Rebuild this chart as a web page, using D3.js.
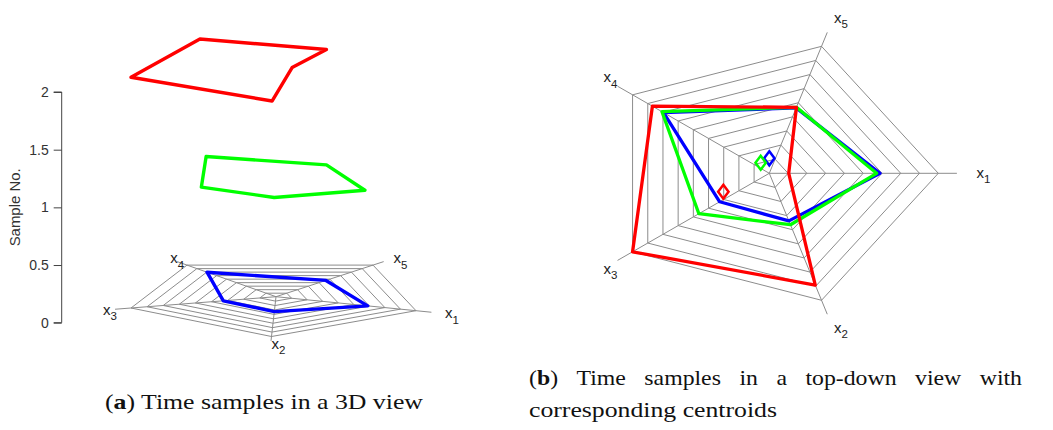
<!DOCTYPE html>
<html>
<head>
<meta charset="utf-8">
<script src="https://cdn.jsdelivr.net/npm/d3@7/dist/d3.min.js"></script>
<style>
  body { margin: 0; background: #fff; }
  svg { display: block; }
  .tick text { font-family: "Liberation Sans", Arial, sans-serif; }
</style>
</head>
<body>
<svg id="chart"></svg>
<script>
// radar axes x1..x5 and the three time samples (values as fraction of the outer ring)
const axisNames = ["1", "2", "3", "4", "5"];
const sampleNo = [0, 1, 2];
const sample0 = [0.655, 0.375, 0.363, 0.775, 0.515];
const sample1 = [0.635, 0.405, 0.515, 0.785, 0.52];
const sample2 = [0.115, 0.88, 1.0, 0.855, 0.52];
// centroids, in units of the outer radius (y up)
const centroidX = [0.0, -0.051, -0.272];
const centroidY = [0.112, 0.079, -0.138];
const zTicks = [0, 0.5, 1, 1.5, 2];
const gridLevels = 9;

const W = 1053, H = 430;
const COLORS = ["#0000ff", "#00ff00", "#ff0000"];
const GRID = "#8c8c8c";
const SANS = "'Liberation Sans', Arial, sans-serif";
const samples = [sample0, sample1, sample2];

const svg = d3.select("#chart").attr("width", W).attr("height", H);
svg.append("rect").attr("width", W).attr("height", H).attr("fill", "#fff");

const line = d3.line().curve(d3.curveLinearClosed);
const openLine = d3.line();
const levels = d3.range(1, gridLevels + 1).map((i) => i / gridLevels);

function axisLabel(g, x, y, sub) {
  const t = g.append("text")
    .attr("x", x - 4)
    .attr("y", y + 4.5)
    .style("font-family", SANS)
    .style("font-size", "15px")
    .attr("fill", "#222");
  t.append("tspan").text("x");
  t.append("tspan").attr("dy", 5.5).style("font-size", "11.5px").text(sub);
}

// ---------- panel (a): oblique 3D view ----------
const panelA = svg.append("g");
const zScale = d3.scaleLinear().domain([0, 2]).range([322.7, 92]);
const rA = d3.scaleLinear().domain([0, 1]).range([0, 1]);
const centreA = 276, baseLift = 26;
// screen direction of each radar axis at full length (projected)
const dirsA = [[140, 14], [-4.5, 39.8], [-145, 11.3], [-89, -31.6], [97, -31.6]];
const projA = (k, v, z) => [
  centreA + dirsA[k][0] * rA(v),
  zScale(z) - baseLift + dirsA[k][1] * rA(v),
];

const zAxis = d3.axisLeft(zScale)
  .tickValues(zTicks)
  .tickFormat(d3.format("~g"))
  .tickSize(8)
  .tickPadding(5);

const zAxisG = panelA.append("g")
  .attr("transform", "translate(61.7,0)")
  .call(zAxis);
zAxisG.select(".domain").attr("stroke", "#444").attr("d", `M-8,${zScale(2)}H0V${zScale(0)}H-8`);
zAxisG.selectAll(".tick line").attr("stroke", "#444");
zAxisG.selectAll(".tick text").style("font-size", "14px").attr("fill", "#333");

panelA.append("text")
  .attr("transform", `translate(20,${(zScale(0) + zScale(2)) / 2}) rotate(-90)`)
  .attr("text-anchor", "middle")
  .attr("textLength", 78)
  .attr("lengthAdjust", "spacingAndGlyphs")
  .style("font-family", SANS)
  .style("font-size", "15px")
  .attr("fill", "#333")
  .text("Sample No.");

const gridA = panelA.append("g")
  .attr("fill", "none")
  .attr("stroke", GRID)
  .attr("stroke-width", 1);

gridA.selectAll(".ring")
  .data(levels)
  .join("path")
  .attr("class", "ring")
  .attr("d", (lv) => line(axisNames.map((_, k) => projA(k, lv, 0))));

gridA.selectAll(".spoke")
  .data(axisNames)
  .join("path")
  .attr("class", "spoke")
  .attr("d", (_, k) => openLine([projA(k, 0, 0), projA(k, 1.11, 0)]));

axisNames.forEach((n, k) => {
  const p = projA(k, 1.2, 0);
  axisLabel(panelA, p[0] + 5, p[1], n);
});

panelA.selectAll(".sample")
  .data(samples)
  .join("path")
  .attr("class", "sample")
  .attr("fill", "none")
  .attr("stroke", (_, i) => COLORS[i])
  .attr("stroke-width", 3.4)
  .attr("stroke-linejoin", "round")
  .attr("d", (vals, i) => line(vals.map((v, k) => projA(k, v, sampleNo[i]))));

// ---------- panel (b): top-down radar ----------
const panelB = svg.append("g");
const cxB = 769.3, cyB = 173.3;
const rxB = d3.scaleLinear().domain([0, 1]).range([0, 169]);
const ryB = d3.scaleLinear().domain([0, 1]).range([0, 133.5]);
const anglesB = [0, -72, -144, 144, 72].map((a) => (a * Math.PI) / 180);
const projB = (k, v) => [
  cxB + rxB(v) * Math.cos(anglesB[k]),
  cyB - ryB(v) * Math.sin(anglesB[k]),
];

const gridB = panelB.append("g")
  .attr("fill", "none")
  .attr("stroke", GRID)
  .attr("stroke-width", 1);

gridB.selectAll(".ring")
  .data(levels)
  .join("path")
  .attr("class", "ring")
  .attr("d", (lv) => line(axisNames.map((_, k) => projB(k, lv))));

gridB.selectAll(".spoke")
  .data(axisNames)
  .join("path")
  .attr("class", "spoke")
  .attr("d", (_, k) => openLine([projB(k, 0), projB(k, 1.11)]));

axisNames.forEach((n, k) => {
  const p = projB(k, 1.22);
  axisLabel(panelB, p[0] + 5, p[1], n);
});

panelB.selectAll(".sample")
  .data(samples)
  .join("path")
  .attr("class", "sample")
  .attr("fill", "none")
  .attr("stroke", (_, i) => COLORS[i])
  .attr("stroke-width", 3.3)
  .attr("stroke-linejoin", "round")
  .attr("d", (vals) => line(vals.map((v, k) => projB(k, v))));

const diamond = [[0, -7], [5.2, 0], [0, 7], [-5.2, 0]];
panelB.selectAll(".centroid")
  .data(sampleNo)
  .join("path")
  .attr("class", "centroid")
  .attr("fill", "none")
  .attr("stroke", (i) => COLORS[i])
  .attr("stroke-width", 2.5)
  .attr("d", (i) => {
    const x = cxB + rxB(centroidX[i]);
    const y = cyB - ryB(centroidY[i]);
    return line(diamond.map(([dx, dy]) => [x + dx, y + dy]));
  });

// ---------- captions ----------
const serif = "'Liberation Serif', 'Times New Roman', serif";

const capA = svg.append("text")
  .attr("x", 105)
  .attr("y", 409)
  .attr("textLength", 318)
  .attr("lengthAdjust", "spacingAndGlyphs")
  .style("font-family", serif)
  .style("font-size", "22px")
  .attr("fill", "#111");
capA.append("tspan").text("(");
capA.append("tspan").style("font-weight", "bold").text("a");
capA.append("tspan").text(") Time samples in a 3D view");

// first line of (b) is justified between two margins
const words = ["(b)", "Time", "samples", "in", "a", "top-down", "view", "with"];
const left = 529, right = 1022;
const wordG = svg.append("g")
  .style("font-family", serif)
  .style("font-size", "22px")
  .attr("fill", "#111");
const wordNodes = words.map((w) => {
  const t = wordG.append("text").attr("y", 385);
  if (w === "(b)") {
    t.append("tspan").text("(");
    t.append("tspan").style("font-weight", "bold").text("b");
    t.append("tspan").text(")");
  } else {
    t.text(w);
  }
  return t;
});
const widths = wordNodes.map((t) => t.node().getComputedTextLength() * 1.08);
const gap = (right - left - d3.sum(widths)) / (words.length - 1);
let cursor = left;
wordNodes.forEach((t, i) => {
  t.attr("x", cursor)
    .attr("textLength", widths[i])
    .attr("lengthAdjust", "spacingAndGlyphs");
  cursor += widths[i] + gap;
});

svg.append("text")
  .attr("x", 529)
  .attr("y", 416.5)
  .attr("textLength", 248)
  .attr("lengthAdjust", "spacingAndGlyphs")
  .style("font-family", serif)
  .style("font-size", "22px")
  .attr("fill", "#111")
  .text("corresponding centroids");
</script>
</body>
</html>
